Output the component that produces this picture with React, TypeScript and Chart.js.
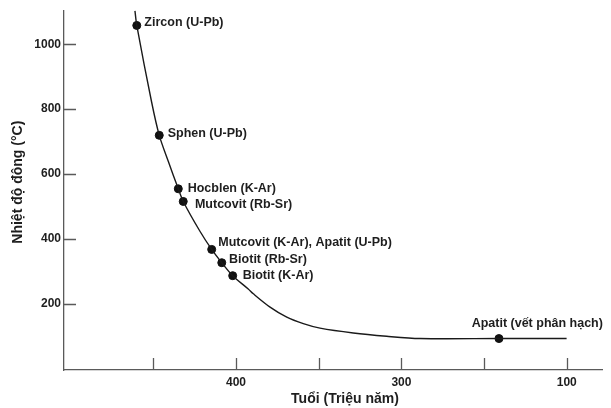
import { useEffect, useRef } from 'react';
import { Chart, registerables } from 'chart.js';

Chart.register(...registerables);

// ---- Data ----
const mineralLabels = [
  'Zircon (U-Pb)',
  'Sphen (U-Pb)',
  'Hocblen (K-Ar)',
  'Mutcovit (Rb-Sr)',
  'Mutcovit (K-Ar), Apatit (U-Pb)',
  'Biotit (Rb-Sr)',
  'Biotit (K-Ar)',
  'Apatit (vết phân hạch)',
];
const mineralAges = [460, 446.4, 434.9, 431.9, 414.7, 408.6, 402, 241];
const mineralTemps = [1058, 719, 554, 515, 367, 326, 286, 92];

const curveAges = [461.1, 460, 451, 446.4, 440.9, 434.9, 431.9, 421.8, 414.7, 408.6, 402, 392.6, 389.5, 379.4, 369.3, 359.3, 349.2, 329.1, 308.9, 288.8, 241, 200.1];
const curveTemps = [1103, 1058, 821, 719, 638, 554, 515, 423, 367, 326, 286, 245, 230, 189, 158, 138, 124, 109, 99, 92, 92, 92];

const xTickValues = [450, 400, 350, 300, 250, 200];
const xTickLabels = ['', '400', '', '300', '', '100'];
const yTickValues = [200, 400, 600, 800, 1000];

const xTitle = 'Tuổi (Triệu năm)';
const yTitle = 'Nhiệt độ đông (°C)';

// ---- Styles ----
const FONT = '"Liberation Sans", Arial, Helvetica, sans-serif';
const TEXT = '#1e1e1e';
const AXIS = '#5a5a5a';
// label offsets (px) relative to each marker: [dx, dy]
const labelOffsets: [number, number][] = [
  [7.6, -2.7],
  [8.4, -1.6],
  [9.4, 0],
  [11.7, 3.3],
  [6.6, -7.3],
  [7.3, -3.4],
  [10, 0],
  [-27.3, -15],
];

const decorPlugin = {
  id: 'decor',
  afterDraw(chart: any) {
    const { ctx, chartArea, scales } = chart;
    const xs = scales.x;
    const ys = scales.y;
    ctx.save();
    // inward tick marks
    ctx.strokeStyle = AXIS;
    ctx.lineWidth = 1.3;
    ctx.beginPath();
    xs.ticks.forEach((t: any) => {
      const px = Math.round(xs.getPixelForValue(t.value)) + 0.5;
      ctx.moveTo(px, chartArea.bottom);
      ctx.lineTo(px, chartArea.bottom - 12);
    });
    ys.ticks.forEach((t: any) => {
      const py = Math.round(ys.getPixelForValue(t.value)) + 0.5;
      ctx.moveTo(chartArea.left, py);
      ctx.lineTo(chartArea.left + 12, py);
    });
    ctx.stroke();

    // axis titles
    ctx.fillStyle = TEXT;
    ctx.font = `bold 14px ${FONT}`;
    ctx.textAlign = 'center';
    ctx.textBaseline = 'middle';
    ctx.fillText(xTitle, chartArea.left + 281, chartArea.bottom + 29);
    ctx.save();
    ctx.translate(18, chartArea.top + 172);
    ctx.rotate(-Math.PI / 2);
    ctx.fillText(yTitle, 0, 0);
    ctx.restore();
    ctx.restore();
  },
  afterDatasetsDraw(chart: any) {
    const { ctx } = chart;
    const meta = chart.getDatasetMeta(1);
    ctx.save();
    ctx.fillStyle = TEXT;
    ctx.font = `bold 12.5px ${FONT}`;
    ctx.textAlign = 'left';
    ctx.textBaseline = 'middle';
    meta.data.forEach((pt: any, i: number) => {
      const [dx, dy] = labelOffsets[i];
      ctx.fillText(mineralLabels[i], pt.x + dx, pt.y + dy);
    });
    ctx.restore();
  },
};

export default function App() {
  const ref = useRef<HTMLCanvasElement>(null);

  useEffect(() => {
    if (!ref.current) return;
    const chart = new Chart(ref.current, {
      type: 'scatter',
      data: {
        datasets: [
          {
            type: 'line',
            data: curveAges.map((a, i) => ({ x: a, y: curveTemps[i] })),
            borderColor: '#1a1a1a',
            borderWidth: 1.4,
            pointRadius: 0,
            fill: false,
            tension: 0.3,
          } as any,
          {
            type: 'scatter',
            data: mineralAges.map((a, i) => ({ x: a, y: mineralTemps[i] })),
            backgroundColor: '#111',
            borderColor: '#111',
            pointRadius: 4,
            pointHoverRadius: 4,
          },
        ],
      },
      options: {
        responsive: false,
        animation: false,
        layout: { padding: { top: 8, right: 9, left: 0, bottom: 0 } },
        plugins: { legend: { display: false }, tooltip: { enabled: false } },
        scales: {
          x: {
            type: 'linear',
            reverse: true,
            min: 178.7,
            max: 504,
            afterFit: (s: any) => { s.height = 38; },
            afterBuildTicks: (s: any) => { s.ticks = xTickValues.map((v) => ({ value: v })); },
            grid: { display: false, drawTicks: false },
            border: { display: true, color: AXIS, width: 1.3 },
            ticks: {
              autoSkip: false,
              maxRotation: 0,
              padding: 5,
              color: TEXT,
              font: { family: FONT, size: 12, weight: 'bold' },
              callback: (_v: any, idx: number) => xTickLabels[idx],
            },
          },
          y: {
            type: 'linear',
            min: -5,
            max: 1105,
            afterFit: (s: any) => { s.width = 64; },
            afterBuildTicks: (s: any) => { s.ticks = yTickValues.map((v) => ({ value: v })); },
            grid: { display: false, drawTicks: false },
            border: { display: true, color: AXIS, width: 1.3 },
            ticks: {
              padding: 3,
              color: TEXT,
              font: { family: FONT, size: 12, weight: 'bold' },
              callback: (v: any) => String(v),
            },
          },
        },
      },
      plugins: [decorPlugin],
    });
    return () => chart.destroy();
  }, []);

  return (
    <div style={{ position: 'absolute', left: 0, top: 0, width: 611, height: 408, background: '#fff' }}>
      <canvas ref={ref} width={611} height={408} style={{ display: 'block' }} />
    </div>
  );
}
